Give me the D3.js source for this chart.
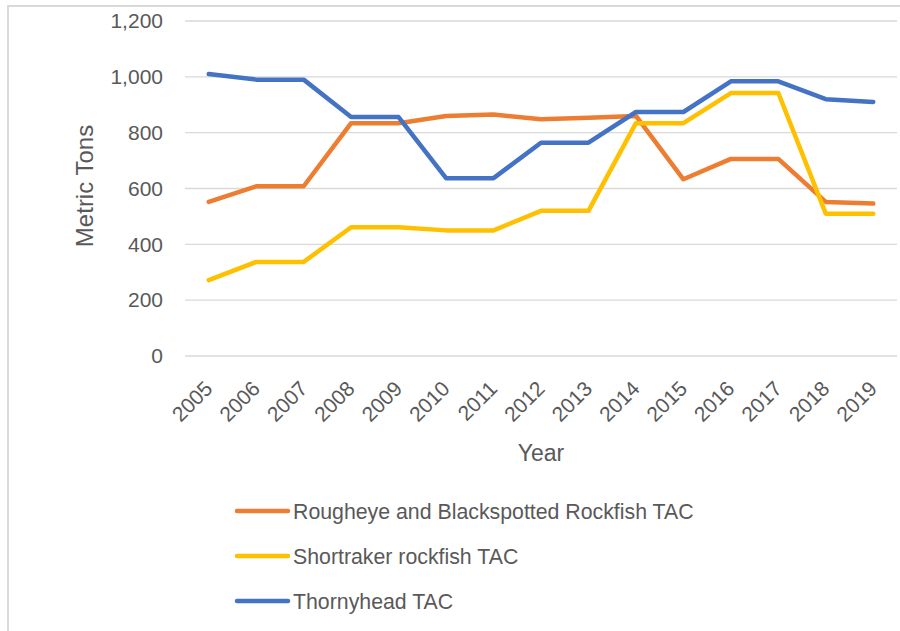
<!DOCTYPE html>
<html>
<head>
<meta charset="utf-8">
<script src="https://cdn.jsdelivr.net/npm/d3@7"></script>
<style>
  html, body { margin: 0; padding: 0; background: #fff; }
  svg { display: block; font-family: "Liberation Sans", Arial, sans-serif; }
</style>
</head>
<body>
<svg id="chart" width="900" height="631"></svg>
<script>
const years = ["2005","2006","2007","2008","2009","2010","2011","2012","2013","2014","2015","2016","2017","2018","2019"];
const rougheye   = [552, 608, 608, 834, 834, 860, 865, 848, 853, 860, 633, 706, 706, 552, 546];
const shortraker = [272, 337, 337, 461, 461, 450, 450, 520, 520, 834, 834, 942, 942, 510, 510];
const thornyhead = [1010, 990, 990, 856, 856, 637, 637, 764, 764, 874, 874, 984, 984, 920, 910];
const seriesNames = ["Rougheye and Blackspotted Rockfish TAC", "Shortraker rockfish TAC", "Thornyhead TAC"];
const seriesColors = ["#ED7D31", "#FFC000", "#4472C4"];
const yTicks = [0, 200, 400, 600, 800, 1000, 1200];

const seriesData = [rougheye, shortraker, thornyhead];

const svg = d3.select("#chart");
const textColor = "#595959";
const gridColor = "#d9d9d9";

// outer border (chart area frame)
svg.append("rect")
  .attr("x", 8).attr("y", 6)
  .attr("width", 900).attr("height", 640)
  .attr("fill", "none").attr("stroke", gridColor).attr("stroke-width", 2);

const plot = { left: 185, right: 897, top: 21, bottom: 356 };

const x = d3.scaleBand().domain(years).range([plot.left, plot.right]);
const y = d3.scaleLinear().domain([0, 1200]).range([plot.bottom, plot.top]);

// gridlines
svg.append("g").selectAll("line").data(yTicks).join("line")
  .attr("x1", plot.left).attr("x2", plot.right)
  .attr("y1", d => y(d)).attr("y2", d => y(d))
  .attr("stroke", gridColor).attr("stroke-width", 1.3);

// y axis labels
const yAxis = d3.axisLeft(y).tickValues(yTicks).tickFormat(d3.format(",")).tickSize(0).tickPadding(22);
const gy = svg.append("g").attr("transform", `translate(${plot.left},0)`).call(yAxis);
gy.select(".domain").remove();
gy.selectAll("text").attr("fill", textColor).style("font-size", "21px")
  .style("font-family", '"Liberation Sans", Arial, sans-serif');

// x axis labels
const xAxis = d3.axisBottom(x).tickSize(0).tickPadding(0);
const gx = svg.append("g").attr("transform", `translate(0,${plot.bottom})`).call(xAxis);
gx.select(".domain").remove();
gx.selectAll("text")
  .attr("fill", textColor)
  .style("font-size", "21px")
  .style("font-family", '"Liberation Sans", Arial, sans-serif')
  .attr("text-anchor", "end")
  .attr("dy", null)
  .attr("y", 0)
  .attr("transform", "translate(5,34) rotate(-45)");

// axis titles
svg.append("text")
  .attr("x", (plot.left + plot.right) / 2).attr("y", 461)
  .attr("text-anchor", "middle").attr("fill", textColor)
  .style("font-size", "23px").text("Year");

svg.append("text")
  .attr("transform", "translate(93,186) rotate(-90)")
  .attr("text-anchor", "middle").attr("fill", textColor)
  .style("font-size", "24px").text("Metric Tons");

// lines
const line = d3.line()
  .x((d, i) => x(years[i]) + x.bandwidth() / 2)
  .y(d => y(d));

svg.append("g").selectAll("path").data(seriesData).join("path")
  .attr("d", d => line(d))
  .attr("fill", "none")
  .attr("stroke", (d, i) => seriesColors[i])
  .attr("stroke-width", 4.5)
  .attr("stroke-linejoin", "round")
  .attr("stroke-linecap", "round");

// legend
const legendY = d3.scalePoint().domain(seriesNames).range([511, 601]);
const lg = svg.append("g").selectAll("g").data(seriesNames).join("g")
  .attr("transform", d => `translate(0,${legendY(d)})`);
lg.append("line")
  .attr("x1", 237).attr("x2", 288).attr("y1", 0).attr("y2", 0)
  .attr("stroke", (d, i) => seriesColors[i]).attr("stroke-width", 4.5)
  .attr("stroke-linecap", "round");
lg.append("text")
  .attr("x", 293).attr("y", 8)
  .attr("fill", textColor).style("font-size", "21.3px")
  .text(d => d);
</script>
</body>
</html>
